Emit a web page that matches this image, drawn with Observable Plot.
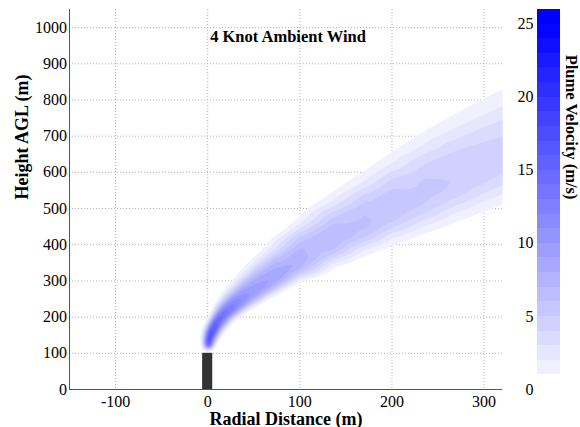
<!DOCTYPE html>
<html>
<head>
<meta charset="utf-8">
<script src="https://cdn.jsdelivr.net/npm/d3@7"></script>
<script src="https://cdn.jsdelivr.net/npm/@observablehq/plot@0.6"></script>
<style>
  body { margin: 0; background: #ffffff; }
  #chart { position: relative; width: 580px; height: 427px; }
  #chart svg { position: absolute; left: 0; top: 0; }
  #chart svg text { font-family: 'Liberation Serif', 'Times New Roman', serif !important; }
</style>
</head>
<body>
<div id="chart"></div>
<script>
// ---- Text ----
const titleText = "4 Knot Ambient Wind";
const xLabel = "Radial Distance (m)";
const yLabel = "Height AGL (m)";
const colorLabel = "Plume Velocity (m/s)";

// ---- Axes ----
const xDomain = [-150, 320];
const yDomain = [0, 1050];
const xTicks = [-100, 0, 100, 200, 300];
const yTicks = [0, 100, 200, 300, 400, 500, 600, 700, 800, 900, 1000];
const colorbarTicks = [0, 5, 10, 15, 20, 25];
const contourLevels = [1, 2, 3, 4, 5, 6, 7, 8, 9, 10, 11, 12, 13, 14, 15, 16, 17, 18, 19, 20, 21, 22, 23, 24, 25];
const colorbarEdges = [1, 2, 3, 4, 5, 6, 7, 8, 9, 10, 11, 12, 13, 14, 15, 16, 17, 18, 19, 20, 21, 22, 23, 24, 25, 26];

// ---- Stack (chimney) ----
const stackLeft = -5.5, stackRight = 5.5, stackTop = 100;

// ---- Plume cross-sections ----
// core (velocity maximum) position of each section
const sectionCoreX = [0.5, 1.5, 3.5, 7, 12, 20, 32, 46, 62, 80, 100, 136, 170, 200, 235, 267, 295, 320, 345];
const sectionCoreY = [117, 135, 155, 175, 195, 212, 236, 262, 289, 320, 353, 410, 458, 498, 538, 577, 608, 637, 665];
// outer (1 m/s) plume edge above / left of the core
const sectionUpperX = [-4.5, -5.9, -4.8, -0.8, 4.5, 10.5, 20, 32, 45.5, 62, 100, 136, 170, 200, 235, 267, 295, 320, 345];
const sectionUpperY = [118, 139, 162, 185, 212, 243, 277, 313, 351, 390, 475, 543, 600, 653, 710, 756, 793, 826, 855];
// outer (1 m/s) plume edge below / right of the core
const sectionLowerX = [5.5, 9, 13, 17.5, 21.5, 27, 39, 54, 70.5, 89.5, 100, 136, 170, 200, 235, 267, 295, 320, 345];
const sectionLowerY = [115.5, 131.5, 146.5, 161, 173, 189, 212, 234, 257, 283, 298, 337, 371, 401, 433, 463, 490, 514, 538];
// velocities (m/s) read across each section: core, 30%, 50%, 80% of the way to the edge
const coreVelocity = [22, 20.5, 19, 17.5, 15.8, 14.2, 12.3, 10.3, 9.5, 8.75, 8.0, 7.0, 6.35, 5.9, 5.4, 5.0, 4.7, 4.4, 4.15];
const velocity30 = [18.9, 17.7, 16.8, 15.7, 14.3, 12.9, 11.2, 9.4, 8.6, 7.9, 7.2, 6.4, 5.8, 5.4, 4.95, 4.6, 4.35, 4.1, 3.9];
const velocity50 = [12.7, 12.3, 12.3, 11.6, 10.7, 9.8, 8.7, 7.4, 6.9, 6.3, 5.6, 5.0, 4.6, 4.3, 4.0, 3.8, 3.6, 3.4, 3.2];
const velocity80 = [3.9, 4.0, 4.1, 4.0, 3.8, 3.6, 3.3, 3.0, 2.8, 2.65, 2.5, 2.3, 2.2, 2.14, 2.06, 1.99, 1.94, 1.88, 1.84];
const edgeVelocity = 1.1;
const outsideVelocity = 0;
const sectionFractions = [0.3, 0.5, 0.8, 1, 1.25];
// still air (0 m/s) readings away from the plume
const ambientX = [-200, 100, 400, -200, 400, -200, 100, 400, -100, -80, 40, 150, 250, 250, 150, 60, -40, 0.5, -5, 6, 20, -20];
const ambientY = [-60, -60, -60, 500, 400, 1100, 1100, 1100, 200, 700, 700, 900, 950, 250, 150, 80, 60, 112, 113, 112.5, 140, 200];

// ---- Build the sampled velocity field ----
const samples = [];
sectionCoreX.forEach((cx, i) => {
  const cy = sectionCoreY[i];
  const readings = [velocity30[i], velocity50[i], velocity80[i], edgeVelocity, outsideVelocity];
  samples.push({x: cx, y: cy, v: coreVelocity[i]});
  [[sectionUpperX[i], sectionUpperY[i]], [sectionLowerX[i], sectionLowerY[i]]].forEach(([ex, ey]) => {
    sectionFractions.forEach((f, j) => {
      samples.push({x: cx + f * (ex - cx), y: cy + f * (ey - cy), v: readings[j]});
    });
  });
});
ambientX.forEach((x, i) => samples.push({x, y: ambientY[i], v: outsideVelocity}));

const stack = [{x1: stackLeft, x2: stackRight, y1: 0, y2: stackTop}];

const font = "'Liberation Serif', 'Times New Roman', serif";
const colorScale = {type: "linear", domain: [-0.5, 24.5], range: ["#ffffff", "#0000ff"], interpolate: "rgb"};
const gridStyle = {stroke: "#b4b4b4", strokeOpacity: 1, strokeWidth: 1, strokeDasharray: "1,2"};
const fmt = d => String(d);

const main = Plot.plot({
  width: 580, height: 427,
  marginLeft: 69, marginRight: 78, marginTop: 9, marginBottom: 38,
  style: {fontFamily: font, fontSize: "16px", color: "#000", background: "#ffffff"},
  x: {domain: xDomain},
  y: {domain: yDomain},
  color: colorScale,
  marks: [
    Plot.gridX(xTicks, gridStyle),
    Plot.gridY(yTicks.slice(1), gridStyle),
    Plot.contour(samples, {
      x: "x", y: "y", fill: "v",
      thresholds: contourLevels,
      interpolate: "barycentric",
      pixelSize: 1,
      blur: 2,
      stroke: "none"
    }),
    Plot.rect(stack, {x1: "x1", x2: "x2", y1: "y1", y2: "y2", fill: "#333333"}),
    Plot.ruleX([xDomain[0]], {stroke: "#555555", strokeWidth: 1}),
    Plot.ruleY([yDomain[0]], {stroke: "#555555", strokeWidth: 1}),
    Plot.axisX(xTicks, {tickSize: 0, tickPadding: 6, label: null, tickFormat: fmt, fontSize: 16, fontFamily: font}),
    Plot.axisY(yTicks, {tickSize: 0, tickPadding: 2.5, label: null, tickFormat: fmt, fontSize: 16, fontFamily: font}),
    Plot.text([titleText], {text: d => d, frameAnchor: "top", dx: 2, dy: 27, lineAnchor: "middle", fontWeight: "bold", fontSize: 16.5, fontFamily: font}),
    Plot.text([xLabel], {text: d => d, frameAnchor: "bottom", dy: 35, lineAnchor: "bottom", fontWeight: "bold", fontSize: 18, fontFamily: font}),
    Plot.text([yLabel], {text: d => d, frameAnchor: "left", dx: -47, rotate: -90, fontWeight: "bold", fontSize: 18, fontFamily: font})
  ]
});

const bar = Plot.plot({
  width: 580, height: 427,
  marginLeft: 537, marginRight: 20, marginTop: 9, marginBottom: 38,
  style: {fontFamily: font, fontSize: "16px", color: "#000", background: "transparent"},
  x: {domain: [0, 1], axis: null},
  y: {domain: [0, 26]},
  color: colorScale,
  marks: [
    Plot.rect(d3.pairs(colorbarEdges), {y1: d => d[0], y2: d => d[1], fill: d => d[0], shapeRendering: "crispEdges"}),
    Plot.axisY(colorbarTicks, {anchor: "left", tickSize: 0, tickPadding: 4, label: null, tickFormat: fmt, fontSize: 16, fontFamily: font}),
    Plot.text([colorLabel], {text: d => d, frameAnchor: "right", dx: 11, rotate: 90, fontWeight: "bold", fontSize: 16.5, fontFamily: font})
  ]
});

const chart = document.getElementById("chart");
chart.appendChild(main);
chart.appendChild(bar);
</script>
</body>
</html>
